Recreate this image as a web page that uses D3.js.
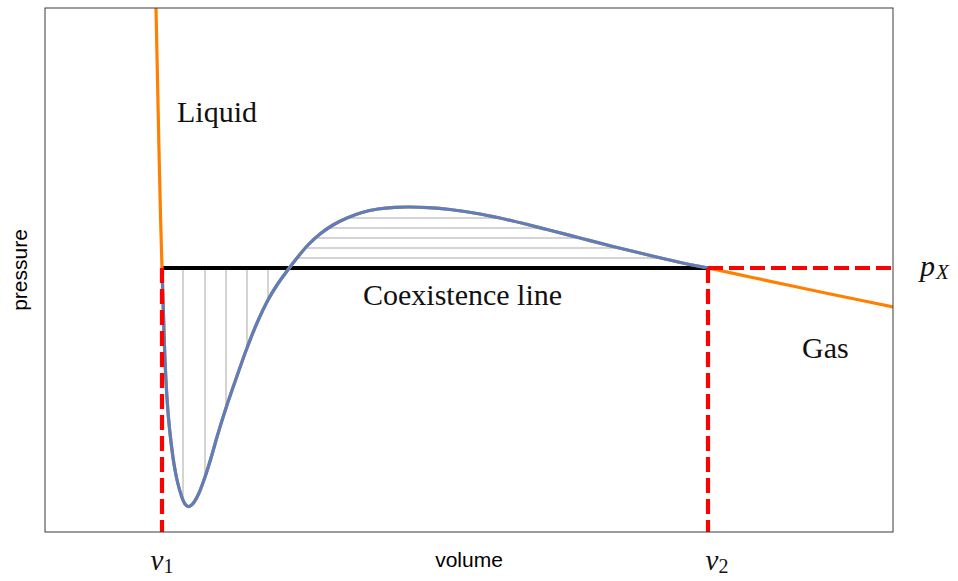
<!DOCTYPE html>
<html>
<head>
<meta charset="utf-8">
<script src="https://cdn.jsdelivr.net/npm/d3@7"></script>
<style>
  html, body { margin: 0; padding: 0; background: #fff; }
  svg { display: block; }
</style>
</head>
<body>
<svg id="chart" width="958" height="581"></svg>
<script>
// ---- data ----
const volume = [1.110, 1.125, 1.140, 1.155, 1.170, 1.180, 1.190, 1.200, 1.215, 1.235, 1.260, 1.290, 1.325,
  1.365, 1.400, 1.430, 1.460, 1.495, 1.540, 1.600, 1.660, 1.720, 1.810, 1.920, 2.020, 2.120, 2.230, 2.320,
  2.420, 2.520, 2.630, 2.750, 2.880, 3.020, 3.170, 3.330, 3.500, 3.650, 3.830, 4.050, 4.350, 4.680, 5.020,
  5.350, 5.680, 5.950, 6.180, 6.400, 6.630, 7.050, 7.450, 7.950, 8.480];
const pressure = [5.240, 4.520, 3.820, 3.170, 2.640, 2.320, 2.000, 1.720, 1.420, 1.140, 0.900, 0.680, 0.500,
  0.360, 0.280, 0.255, 0.265, 0.305, 0.390, 0.550, 0.740, 0.950, 1.240, 1.560, 1.840, 2.090, 2.320, 2.470,
  2.610, 2.740, 2.870, 2.980, 3.070, 3.140, 3.195, 3.230, 3.247, 3.250, 3.244, 3.225, 3.180, 3.110, 3.025,
  2.940, 2.855, 2.790, 2.735, 2.685, 2.640, 2.550, 2.465, 2.360, 2.250];
const v1 = 1.17, v2 = 6.63, pX = 2.64;
const tickValues = [v1, v2];
const tickNames = ["v", "v"];
const tickSubs = ["1", "2"];
const hatchVolumes = [1.38, 1.60, 1.81, 2.02, 2.23];
const hatchPressures = [3.14, 3.04, 2.94, 2.84, 2.74];
const labels = [
  {text: "Liquid", v: 1.32, p: 4.10},
  {text: "Coexistence line", v: 3.18, p: 2.27},
  {text: "Gas", v: 7.57, p: 1.74}
];

// ---- layout ----
const svg = d3.select("#chart");
const margin = {left: 45, top: 8, right: 65, bottom: 49};
const W = 958, H = 581;
const x = d3.scaleLinear().domain([0, 8.48]).range([margin.left, W - margin.right]);
const y = d3.scaleLinear().domain([0, 5.24]).range([H - margin.bottom, margin.top]);

const pts = volume.map((v, i) => ({v, p: pressure[i]}));
const loop = pts.filter(d => d.v >= v1 - 1e-9 && d.v <= v2 + 1e-9);

const defs = svg.append("defs");
defs.append("clipPath").attr("id", "plotclip").append("rect")
  .attr("x", x(0)).attr("y", y(5.24)).attr("width", x(8.48) - x(0)).attr("height", y(0) - y(5.24));

const curve = d3.curveCatmullRom.alpha(0.5);
const line = d3.line().x(d => x(d.v)).y(d => y(d.p)).curve(curve);
const area = d3.area().x(d => x(d.v)).y0(y(pX)).y1(d => y(d.p)).curve(curve);

defs.append("clipPath").attr("id", "hatchclip").append("path").attr("d", area(loop));

const g = svg.append("g").attr("clip-path", "url(#plotclip)");

// hatching
const hatch = g.append("g").attr("clip-path", "url(#hatchclip)")
  .attr("stroke", "#a9a9a9").attr("stroke-width", 1);
hatch.selectAll("line.v").data(hatchVolumes).join("line").attr("class", "v")
  .attr("x1", d => x(d)).attr("x2", d => x(d)).attr("y1", y(pX)).attr("y2", y(0));
hatch.selectAll("line.h").data(hatchPressures).join("line").attr("class", "h")
  .attr("x1", x(v1)).attr("x2", x(v2)).attr("y1", d => y(d)).attr("y2", d => y(d));

// coexistence line
g.append("line").attr("x1", x(v1)).attr("x2", x(v2)).attr("y1", y(pX)).attr("y2", y(pX))
  .attr("stroke", "#000").attr("stroke-width", 4);

// full isotherm (orange)
g.append("path").attr("d", line(pts)).attr("fill", "none")
  .attr("stroke", "#ff8000").attr("stroke-width", 3.2);

// loop (blue)
g.append("path").attr("d", line(loop)).attr("fill", "none")
  .attr("stroke", "#5b7fbe").attr("stroke-width", 3.2);

// red dashed guides
const red = g.append("g").attr("stroke", "#ff0000").attr("stroke-width", 4.2)
  .attr("stroke-dasharray", "15,6").attr("fill", "none");
red.append("line").attr("x1", x(v1)).attr("x2", x(v1)).attr("y1", y(pX)).attr("y2", y(0));
red.append("line").attr("x1", x(v2)).attr("x2", x(v2)).attr("y1", y(pX)).attr("y2", y(0));
red.append("line").attr("x1", x(v2)).attr("x2", x(8.48)).attr("y1", y(pX)).attr("y2", y(pX));

// frame
svg.append("rect").attr("x", x(0)).attr("y", y(5.24))
  .attr("width", x(8.48) - x(0)).attr("height", y(0) - y(5.24))
  .attr("fill", "none").attr("stroke", "#3a3a3a").attr("stroke-width", 1);

// annotations
const serif = "'Liberation Serif', 'DejaVu Serif', serif";
svg.selectAll("text.ann").data(labels).join("text").attr("class", "ann")
  .attr("x", d => x(d.v)).attr("y", d => y(d.p))
  .attr("font-family", serif).attr("font-size", 30).attr("fill", "#111")
  .text(d => d.text);

// p_X label
const pl = svg.append("text").attr("x", x(8.48) + 27).attr("y", y(pX) + 8)
  .attr("font-family", serif).attr("font-size", 30).attr("font-style", "italic").attr("fill", "#111");
pl.append("tspan").text("p");
pl.append("tspan").attr("font-size", 21).attr("dy", 3).attr("dx", 1).text("X");

// x tick labels
const tl = svg.selectAll("text.tick").data(tickValues).join("text").attr("class", "tick")
  .attr("x", (d, i) => x(d) + (i === 1 ? 9 : 0)).attr("y", 570)
  .attr("text-anchor", "middle")
  .attr("font-family", serif).attr("font-size", 29).attr("fill", "#111");
tl.append("tspan").attr("font-style", "italic").text((d, i) => tickNames[i]);
tl.append("tspan").attr("font-size", 20).attr("dy", 3).text((d, i) => tickSubs[i]);

// axis titles
const sans = "'Liberation Sans', Arial, Helvetica, sans-serif";
svg.append("text").attr("x", (x(0) + x(8.48)) / 2).attr("y", 567)
  .attr("text-anchor", "middle").attr("font-family", sans).attr("font-size", 21).attr("fill", "#000")
  .text("volume");
svg.append("text").attr("transform", `translate(27,${(y(0) + y(5.24)) / 2}) rotate(-90)`)
  .attr("text-anchor", "middle").attr("font-family", sans).attr("font-size", 21).attr("fill", "#000")
  .text("pressure");
</script>
</body>
</html>
